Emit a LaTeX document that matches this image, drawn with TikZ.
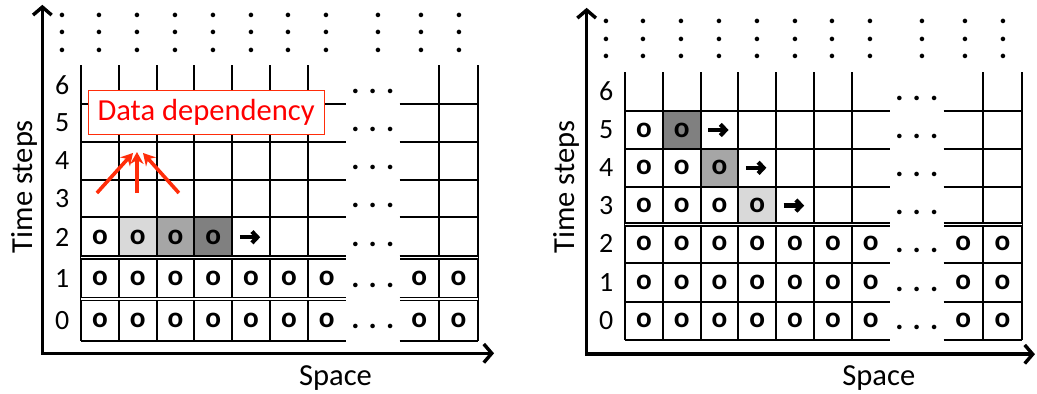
\documentclass[tikz,border=0pt]{standalone}
\usepackage{fontspec}
\setmainfont{Carlito}
\usetikzlibrary{arrows.meta}

\definecolor{shadelight}{RGB}{217,217,217}
\definecolor{shademid}{RGB}{166,166,166}
\definecolor{shadedark}{RGB}{128,128,128}
\definecolor{depred}{RGB}{255,45,10}

\tikzset{
  gridline/.style={line width=1.4pt},
  twinline/.style={line width=0.9pt, double=white, double distance=1.3pt},
  axisline/.style={line width=2.6pt,
    {Straight Barb[length=6pt,width=14pt]}-{Straight Barb[length=6pt,width=14pt]}},
  cellmark/.style={font=\fontsize{22}{26}\selectfont\bfseries, inner sep=0pt},
  rowlabel/.style={font=\fontsize{21}{25}\selectfont, inner sep=0pt},
  axislabel/.style={font=\fontsize{23}{28}\selectfont, inner sep=0pt},
  ellipsis/.style={font=\fontsize{23}{28}\selectfont\bfseries, inner sep=0pt},
  depbox/.style={draw=depred, line width=0.8pt, fill=white, text=red,
    font=\fontsize{23}{28}\selectfont, minimum width=6.24cm, minimum height=1.16cm},
  deparrow/.style={depred, line width=2.7pt, -{Stealth[length=9pt,width=10pt]}},
  pics/shiftarrow/.style={code={
    \draw[line width=3.2pt, -{Straight Barb[length=4pt,width=8.5pt]}] (-0.3,0) -- (0.24,0);
  }},
}

\begin{document}
\begin{tikzpicture}
\useasboundingbox (0,0) rectangle (27.434,10.397);

% ---- left: one row at a time ----
\begin{scope}[shift={(2.143,1.376)}]
  \fill[shadelight] (1,2.209) rectangle (2,3.280);
  \fill[shademid] (2,2.209) rectangle (3,3.280);
  \fill[shadedark] (3,2.209) rectangle (4,3.280);

  \foreach \x in {0,1,2,3,4,5,6,9.47,10.5}
    \draw[gridline] (\x,0) -- (\x,7.294);
  \foreach \y in {0,3.280,4.270,5.265,6.262}
    \draw[gridline] (0,\y) -- (7,\y) (8.43,\y) -- (10.5,\y);
  \foreach \y in {1.108,2.209}
    \draw[twinline] (0,\y) -- (7,\y) (8.43,\y) -- (10.5,\y);

  \foreach \r/\y in {0/0.554,1/1.659,2/2.745,3/3.775,4/4.768,5/5.764,6/6.778}{
    \node[rowlabel] (L-num-\r) at (-0.5,\y) {\r};
    \node[ellipsis] (L-gap-\r) at (7.72,\y-0.18) {. . .};
  }
  \foreach \r/\y in {0/0.554,1/1.659}{
    \foreach \c in {1,...,7}
      \node[cellmark] (L-o-\r-\c) at (\c-0.5,\y) {o};
    \node[cellmark] (L-o-\r-8) at (8.95,\y) {o};
    \node[cellmark] (L-o-\r-9) at (9.985,\y) {o};
  }
  \foreach \c in {1,...,4}
    \node[cellmark] (L-o-2-\c) at (\c-0.5,2.745) {o};
  \pic at (4.5,2.745) {shiftarrow};

  \foreach \x [count=\i] in {-0.5,0.5,1.5,2.5,3.5,4.5,5.5,6.5,7.87,9.0,10.02}
    \node[ellipsis, rotate=90] (L-more-\i) at (\x,8.154) {. . .};

  % dependency label and arrows
  \node[depbox] (L-dep) at (3.31,6.05) {Data dependency};
  \coordinate (L-src-1) at (0.42,3.915);
  \coordinate (L-src-2) at (1.48,3.915);
  \coordinate (L-src-3) at (2.59,3.915);
  \coordinate (L-dst-1) at (1.376,4.974);
  \coordinate (L-dst-2) at (1.48,5.0);
  \coordinate (L-dst-3) at (1.64,4.974);
  \foreach \i in {1,2,3}
    \draw[deparrow] (L-src-\i) -- (L-dst-\i);
\end{scope}

% ---- right: a wavefront ----
\begin{scope}[shift={(16.534,1.402)}]
  \fill[shadelight] (3,3.056) rectangle (4,4.056);
  \fill[shademid] (2,4.056) rectangle (3,5.053);
  \fill[shadedark] (1,5.053) rectangle (2,6.058);

  \foreach \x in {0,1,2,3,4,5,6,9.47,10.5}
    \draw[gridline] (\x,0) -- (\x,7.098);
  \foreach \y in {0,1.013,2.029,4.056,5.053,6.058}
    \draw[gridline] (0,\y) -- (7,\y) (8.43,\y) -- (10.5,\y);
  \draw[twinline] (0,3.056) -- (7,3.056) (8.43,3.056) -- (10.5,3.056);

  \foreach \r/\y in {0/0.507,1/1.521,2/2.543,3/3.556,4/4.555,5/5.556,6/6.578}{
    \node[rowlabel] (R-num-\r) at (-0.5,\y) {\r};
    \node[ellipsis] (R-gap-\r) at (7.72,\y-0.18) {. . .};
  }
  \foreach \r/\y in {0/0.507,1/1.521,2/2.543}{
    \foreach \c in {1,...,7}
      \node[cellmark] (R-o-\r-\c) at (\c-0.5,\y) {o};
    \node[cellmark] (R-o-\r-8) at (8.95,\y) {o};
    \node[cellmark] (R-o-\r-9) at (9.985,\y) {o};
  }
  \foreach \r/\y/\n in {3/3.556/4,4/4.555/3,5/5.556/2}{
    \foreach \c in {1,...,\n}
      \node[cellmark] (R-o-\r-\c) at (\c-0.5,\y) {o};
    \pic at (\n+0.5,\y) {shiftarrow};
  }

  \foreach \x [count=\i] in {-0.5,0.5,1.5,2.5,3.5,4.5,5.5,6.5,7.87,9.0,10.02}
    \node[ellipsis, rotate=90] (R-more-\i) at (\x,7.958) {. . .};
\end{scope}

% ---- axes ----
\coordinate (L-origin) at (1.12,1.05);
\coordinate (L-up) at (1.12,10.27);
\coordinate (L-right) at (13.07,1.05);
\coordinate (R-origin) at (15.52,1.026);
\coordinate (R-up) at (15.52,10.19);
\coordinate (R-right) at (27.38,1.026);
\draw[axisline] (L-up) -- (L-origin) -- (L-right);
\draw[axisline] (R-up) -- (R-origin) -- (R-right);

\node[axislabel, rotate=90, anchor=base] (L-time) at (0.847,5.46) {Time steps};
\node[axislabel, anchor=base] (L-space) at (8.876,0.21) {Space};
\node[axislabel, rotate=90, anchor=base] (R-time) at (15.21,5.44) {Time steps};
\node[axislabel, anchor=base] (R-space) at (23.25,0.21) {Space};
\end{tikzpicture}
\end{document}
